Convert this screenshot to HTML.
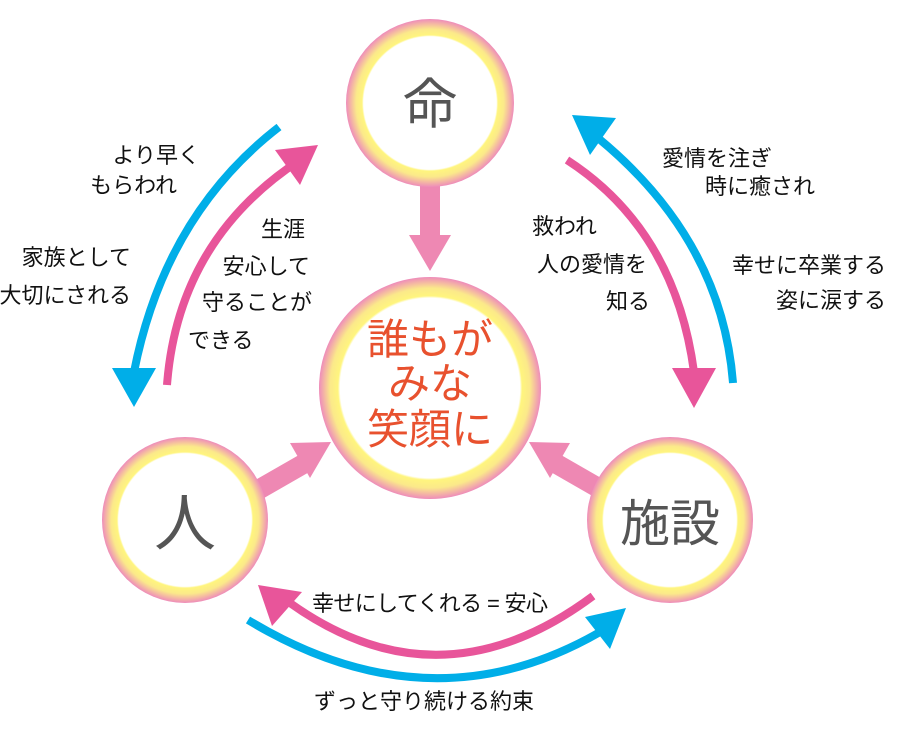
<!DOCTYPE html>
<html><head><meta charset="utf-8"><style>
html,body{margin:0;padding:0;background:#fff;}
svg{display:block;}
text{font-family:"Liberation Sans","Noto Sans CJK JP",sans-serif;}
</style></head><body>
<svg width="906" height="734" viewBox="0 0 906 734" xmlns="http://www.w3.org/2000/svg">
<defs>
<radialGradient id="gT" gradientUnits="userSpaceOnUse" cx="430" cy="103" r="84">
<stop offset="0.79" stop-color="#fff"/><stop offset="0.81" stop-color="#fff57e"/><stop offset="0.88" stop-color="#fbe98a"/><stop offset="1" stop-color="#ee8cba"/></radialGradient>
<radialGradient id="gC" gradientUnits="userSpaceOnUse" cx="430" cy="388" r="111">
<stop offset="0.81" stop-color="#fff"/><stop offset="0.83" stop-color="#fff57e"/><stop offset="0.9" stop-color="#fbe98a"/><stop offset="1" stop-color="#ee8cba"/></radialGradient>
<radialGradient id="gL" gradientUnits="userSpaceOnUse" cx="185" cy="520" r="83">
<stop offset="0.8" stop-color="#fff"/><stop offset="0.82" stop-color="#fff57e"/><stop offset="0.89" stop-color="#fbe98a"/><stop offset="1" stop-color="#ee8cba"/></radialGradient>
<radialGradient id="gR" gradientUnits="userSpaceOnUse" cx="670" cy="520" r="83">
<stop offset="0.8" stop-color="#fff"/><stop offset="0.82" stop-color="#fff57e"/><stop offset="0.89" stop-color="#fbe98a"/><stop offset="1" stop-color="#ee8cba"/></radialGradient>
</defs>

<rect x="420" y="185" width="20" height="52" fill="#ee88b3"/>
<polygon points="409,235 451,235 430,271" fill="#ee88b3"/>
<line x1="258" y1="490" x2="305" y2="463" stroke="#ee88b3" stroke-width="20"/>
<polygon points="290,443 331,442 310,478" fill="#ee88b3"/>
<line x1="602" y1="490" x2="555" y2="463" stroke="#ee88b3" stroke-width="20"/>
<polygon points="570,443 529,442 550,478" fill="#ee88b3"/>

<circle cx="430" cy="103" r="84" fill="url(#gT)"/>
<circle cx="430" cy="388" r="111" fill="url(#gC)"/>
<circle cx="185" cy="520" r="83" fill="url(#gL)"/>
<circle cx="670" cy="520" r="83" fill="url(#gR)"/>

<g fill="none" stroke-width="8">
<path d="M279,127 Q165,215 134,372" stroke="#00aee8"/>
<path d="M167,385 Q178,240 300,160" stroke="#e8559a"/>
<path d="M567,160 Q675,230 694,372" stroke="#e8559a"/>
<path d="M733,383 Q722,240 598,138" stroke="#00aee8"/>
<path d="M593,596 Q440,710 290,603" stroke="#e8559a"/>
<path d="M248,620 Q430,730 600,632" stroke="#00aee8"/>
</g>
<polygon points="112,368 156,368 134,407" fill="#00aee8"/>
<polygon points="318,145 275,150 300,185" fill="#e8559a"/>
<polygon points="672,368 716,368 694,408" fill="#e8559a"/>
<polygon points="572,115 616,118 590,155" fill="#00aee8"/>
<polygon points="258,585 302,592 272,626" fill="#e8559a"/>
<polygon points="626,608 585,617 610,649" fill="#00aee8"/>

<text x="430" y="123" font-size="54" fill="#555" text-anchor="middle">命</text>
<text x="185" y="545" font-size="62" fill="#555" text-anchor="middle">人</text>
<text x="670" y="541" font-size="50" fill="#555" text-anchor="middle">施設</text>
<g font-size="42" fill="#e8512e" text-anchor="middle">
<text x="430" y="354">誰もが</text>
<text x="430" y="398">みな</text>
<text x="430" y="444">笑顔に</text>
</g>

<g font-size="22" fill="#111">
<text x="200" y="163" text-anchor="end">より早く</text>
<text x="177" y="193" text-anchor="end">もらわれ</text>
<text x="131" y="265" text-anchor="end">家族として</text>
<text x="131" y="303" text-anchor="end">大切にされる</text>
<text x="305" y="237" text-anchor="end">生涯</text>
<text x="310" y="274" text-anchor="end">安心して</text>
<text x="312" y="310" text-anchor="end">守ることが</text>
<text x="188" y="348">できる</text>
<text x="532" y="234">救われ</text>
<text x="647" y="272" text-anchor="end">人の愛情を</text>
<text x="650" y="309" text-anchor="end">知る</text>
<text x="662" y="166">愛情を注ぎ</text>
<text x="815" y="194" text-anchor="end">時に癒され</text>
<text x="886" y="273" text-anchor="end">幸せに卒業する</text>
<text x="886" y="308" text-anchor="end">姿に涙する</text>
<text x="312" y="611" textLength="236">幸せにしてくれる = 安心</text>
<text x="314" y="709">ずっと守り続ける約束</text>
</g>
</svg>
</body></html>
